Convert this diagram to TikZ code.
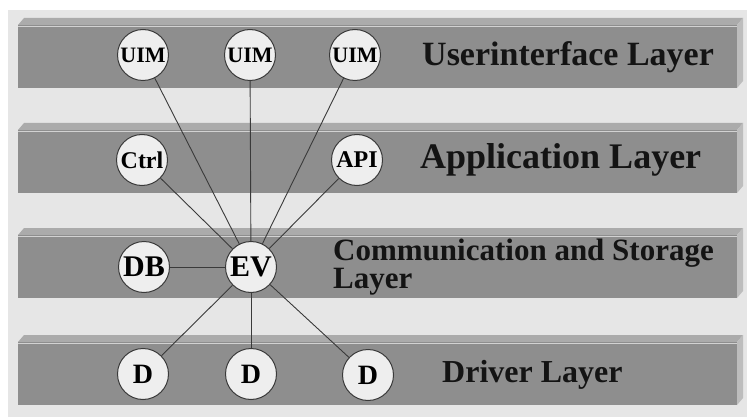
\documentclass[tikz,border=0pt]{standalone}
\usepackage{fontspec}
\setmainfont{Liberation Serif}
\definecolor{bgcolor}{HTML}{E6E6E6}
\definecolor{layerfront}{HTML}{8E8E8E}
\definecolor{layertop}{HTML}{ABABAB}
\definecolor{layerside}{HTML}{BDBDBD}
\definecolor{modfill}{HTML}{EEEEEE}
\definecolor{wirecolor}{HTML}{3A3A3A}
\tikzset{
    % --- modules (circles) ---
    module/.style={circle, draw=wirecolor, line width=1pt, fill=modfill,
                   minimum size=51pt, inner sep=0pt, text=black,
                   font=\bfseries\fontsize{#1}{#1}\selectfont},
    module/.default=28,
    wire/.style={draw=wirecolor, line width=0.9pt},
    % --- layer names ---
    layername/.style={anchor=base west, inner sep=0pt, text=black!92,
                      font=\bfseries\fontsize{#1}{#1}\selectfont},
}

\begin{document}
\begin{tikzpicture}[x=1pt,y=-1pt]
    \useasboundingbox (0,0) rectangle (747,417);
    \fill[bgcolor] (8,10) rectangle (747,417);

    % the four slabs
    \foreach \y in {25,130,235,342}{
        \fill[layertop] (18,\y) -- (24,\y-7) -- (743,\y-7) -- (737,\y) -- cycle;
        \fill[layerside] (737,\y) -- (743,\y-7) -- (743,\y+56) -- (737,\y+63) -- cycle;
        \fill[layerfront] (18,\y) rectangle (737,\y+63);
        \draw[white!60!layerfront, line width=0.8pt] (18,\y+1) -- (737,\y+1);
    }

    \node[layername=34] (ui_name) at (422,66) {Userinterface Layer};
    \node[layername=36] (app_name) at (420,168) {Application Layer};
    \node[layername=31, anchor=west, align=left,
          font=\bfseries\fontsize{31}{28}\selectfont] (com_name) at (333,267)
          {Communication and Storage\\Layer};
    \node[layername=32] (drv_name) at (442,382) {Driver Layer};

    \node[module=22] (uim_a) at (143,55) {UIM};
    \node[module=22] (uim_b) at (250,55) {UIM};
    \node[module=22] (uim_c) at (355,55) {UIM};
    \node[module=24] (ctrl) at (142,160) {Ctrl};
    \node[module=24] (api) at (357,160) {API};
    \node[module=30] (db) at (144,267) {DB};
    \node[module=30] (ev) at (251,267) {EV};
    \node[module] (d_a) at (143,374) {D};
    \node[module] (d_b) at (251,374) {D};
    \node[module] (d_c) at (368,375) {D};

    \foreach \m in {uim_a,uim_b,uim_c,ctrl,api,db,d_a,d_b,d_c}
        \draw[wire] (\m) -- (ev);
\end{tikzpicture}
\end{document}
